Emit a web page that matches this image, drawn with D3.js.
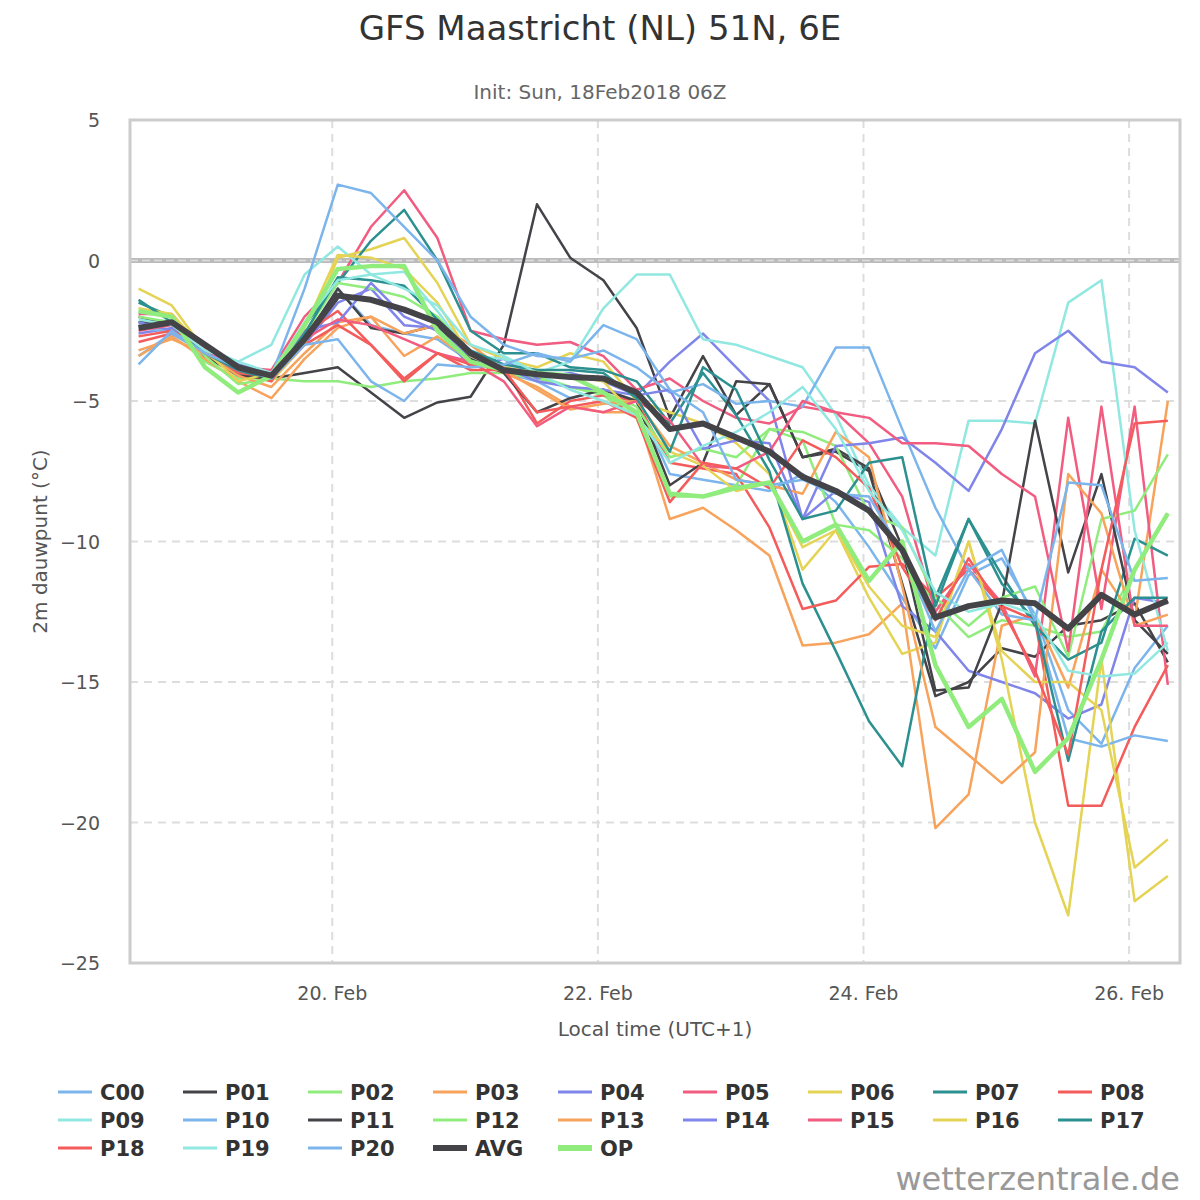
<!DOCTYPE html>
<html><head><meta charset="utf-8">
<script src="https://cdn.jsdelivr.net/npm/d3@7"></script>
<style>body{margin:0;background:#fff;} text{font-family:"DejaVu Sans",sans-serif;}</style>
</head><body>
<script>
// 6-hourly steps starting 18 Feb 13:00 local
let start = new Date(2018, 1, 18, 13);
let names = ["C00","P01","P02","P03","P04","P05","P06","P07","P08","P09","P10","P11","P12","P13","P14","P15","P16","P17","P18","P19","P20","AVG","OP"];
let colors = ["#7cb5ec","#434348","#90ed7d","#f7a35c","#8085e9","#f15c80","#e4d354","#2b908f","#f45b5b","#91e8e1"];

let C00 = [-3.4,-2.6,-3.1,-4.0,-4.2,-3.0,-1.0,-2.3,-2.6,-2.8,-3.6,-4.0,-4.3,-4.9,-4.6,-5.0,-7.6,-7.8,-8.0,-8.2,-7.6,-8.6,-10.2,-12.0,-13.8,-11.2,-10.6,-12.6,-16.0,-17.2,-14.5,-13.0];
let P01 = [-2.0,-2.3,-3.3,-3.9,-4.2,-4.0,-3.8,-4.7,-5.6,-5.05,-4.85,-3.0,2.0,0.1,-0.7,-2.4,-5.6,-3.4,-5.5,-4.4,-7.0,-6.8,-7.5,-11.5,-15.5,-15.0,-13.8,-14.1,-13.0,-12.8,-12.2,-14.3];
let P02 = [-2.0,-2.2,-3.6,-4.2,-4.2,-4.3,-4.3,-4.5,-4.3,-4.2,-4.0,-4.0,-4.2,-4.5,-4.8,-5.6,-8.4,-8.4,-8.0,-6.0,-6.4,-9.4,-9.6,-10.6,-12.2,-13.4,-12.8,-13.0,-13.4,-13.2,-11.0,-9.0];
let P03 = [-3.4,-2.7,-3.5,-4.3,-4.9,-3.5,-2.4,-2.0,-3.4,-2.7,-3.6,-4.0,-4.5,-5.2,-5.4,-5.4,-9.2,-8.8,-9.6,-10.5,-13.7,-13.6,-13.3,-12.2,-20.2,-19.0,-13.0,-12.6,-15.2,-11.0,-12.8,-5.0];
let P04 = [-2.6,-2.4,-3.1,-3.8,-4.1,-3.0,-1.5,-1.0,-2.3,-2.4,-3.8,-3.5,-4.2,-4.0,-4.3,-4.8,-3.6,-2.6,-3.8,-5.0,-9.2,-8.2,-8.6,-12.3,-13.2,-14.6,-15.0,-15.4,-16.3,-15.8,-12.0,-12.2];
let P05 = [-1.9,-1.9,-3.3,-3.8,-3.9,-2.0,-0.8,1.2,2.5,0.8,-2.5,-2.8,-3.0,-2.9,-3.4,-4.6,-4.2,-5.0,-5.6,-5.8,-5.2,-5.4,-6.5,-8.4,-12.5,-10.8,-12.2,-14.8,-5.6,-12.4,-5.2,-15.1];
let P06 = [-1.0,-1.6,-3.2,-4.0,-4.3,-3.0,0.1,0.4,0.8,-0.8,-3.0,-3.5,-3.8,-3.3,-3.6,-5.0,-5.4,-5.8,-6.5,-7.6,-11.0,-9.6,-12.0,-14.0,-13.6,-10.0,-14.2,-20.0,-23.3,-14.2,-22.8,-21.9];
let P07 = [-1.5,-2.0,-3.3,-4.0,-4.2,-2.3,-0.8,0.7,1.8,0.0,-2.5,-3.3,-3.3,-3.8,-3.9,-4.3,-5.8,-4.0,-5.5,-7.5,-11.5,-13.9,-16.4,-18.0,-12.0,-9.2,-11.2,-13.0,-14.2,-13.6,-9.9,-10.5];
let P08 = [-2.9,-2.6,-3.2,-4.0,-4.3,-2.6,-1.8,-3.0,-4.3,-3.3,-3.7,-3.8,-5.8,-5.0,-4.8,-5.0,-7.2,-7.4,-7.6,-9.5,-12.4,-12.1,-10.9,-10.8,-12.0,-11.0,-12.3,-12.8,-19.4,-19.4,-16.6,-14.4];
let P09 = [-2.4,-2.5,-3.1,-3.6,-3.0,-0.5,0.5,-0.5,-0.4,-1.8,-3.4,-3.5,-4.0,-3.6,-1.7,-0.5,-0.5,-2.8,-3.0,-3.4,-3.8,-5.5,-8.0,-9.5,-10.5,-5.7,-5.7,-5.8,-1.5,-0.7,-9.6,-13.9];
let P10 = [-2.3,-2.6,-3.3,-3.9,-4.1,-1.0,2.7,2.4,1.2,0.0,-2.0,-3.0,-3.4,-3.5,-3.2,-3.8,-4.7,-4.4,-5.1,-5.0,-5.2,-3.1,-3.1,-6.0,-8.8,-11.0,-12.6,-12.8,-17.0,-17.3,-16.9,-17.1];
let P11 = [-2.2,-2.2,-3.4,-4.1,-4.2,-2.8,-1.0,-2.4,-2.6,-2.3,-3.5,-4.0,-5.4,-4.9,-4.6,-5.0,-8.0,-7.2,-4.3,-4.4,-7.0,-6.7,-7.4,-10.2,-15.3,-15.2,-12.2,-5.7,-11.1,-7.6,-12.8,-14.0];
let P12 = [-1.8,-2.0,-3.4,-4.4,-4.2,-2.6,-0.8,-1.0,-1.3,-2.0,-3.3,-3.9,-4.1,-4.5,-4.7,-5.2,-7.0,-6.7,-7.0,-6.0,-6.1,-6.6,-9.0,-9.5,-12.0,-13.0,-12.0,-11.6,-14.1,-9.2,-8.9,-6.9];
let P13 = [-3.2,-2.8,-3.3,-4.1,-4.5,-3.3,-2.2,-2.0,-2.6,-2.3,-3.0,-3.9,-4.6,-5.3,-5.1,-5.0,-6.6,-7.2,-7.8,-8.0,-8.3,-6.1,-7.0,-11.6,-16.6,-17.6,-18.6,-17.5,-7.6,-9.0,-13.0,-12.6];
let P14 = [-2.2,-2.5,-3.0,-3.7,-4.0,-2.5,-2.2,-0.8,-2.0,-2.5,-3.4,-3.8,-4.3,-4.5,-4.6,-4.8,-4.6,-6.7,-6.4,-6.5,-9.2,-6.6,-6.5,-6.3,-7.2,-8.2,-6.0,-3.3,-2.5,-3.6,-3.8,-4.7];
let P15 = [-2.5,-2.3,-3.2,-3.9,-4.1,-2.8,-2.1,-2.3,-2.8,-3.3,-3.6,-4.3,-5.9,-5.2,-5.4,-5.0,-5.7,-7.3,-7.4,-6.8,-5.0,-5.4,-5.6,-6.5,-6.5,-6.6,-7.6,-8.4,-13.9,-5.2,-13.0,-13.0];
let P16 = [-1.7,-1.9,-3.2,-4.3,-4.0,-2.4,0.2,0.1,-0.3,-1.5,-3.4,-3.8,-4.0,-4.1,-4.3,-5.6,-6.8,-7.3,-8.2,-7.9,-10.2,-9.6,-11.6,-13.0,-13.4,-10.0,-13.9,-15.0,-15.0,-16.0,-21.6,-20.6];
let P17 = [-1.4,-2.2,-3.3,-3.9,-4.2,-2.6,-0.6,-0.7,-0.9,-2.1,-3.2,-3.7,-3.9,-3.9,-4.0,-4.9,-6.8,-3.8,-4.6,-7.1,-9.2,-8.9,-7.2,-7.0,-12.3,-9.2,-11.5,-12.8,-17.8,-13.2,-12.0,-12.0];
let P18 = [-2.7,-2.5,-3.1,-3.8,-4.2,-3.0,-2.3,-3.0,-4.2,-3.3,-3.9,-3.9,-5.4,-5.2,-5.0,-5.6,-8.6,-7.2,-7.4,-8.1,-6.4,-7.0,-8.1,-10.9,-12.8,-10.6,-12.4,-14.6,-17.6,-11.0,-5.8,-5.7];
let P19 = [-2.1,-2.3,-3.2,-3.6,-4.0,-2.2,-0.7,-0.5,-1.0,-1.6,-3.0,-3.4,-4.0,-4.6,-5.0,-5.5,-7.2,-6.6,-6.1,-5.4,-4.5,-6.0,-8.2,-9.6,-11.8,-12.5,-12.2,-12.6,-14.6,-14.8,-14.7,-13.6];
let P20 = [-3.7,-2.5,-3.3,-3.8,-4.2,-3.0,-2.8,-4.3,-5.0,-3.7,-3.8,-3.7,-3.3,-3.6,-2.3,-2.8,-4.6,-5.4,-7.8,-8.0,-7.8,-8.3,-8.4,-10.4,-13.2,-11.0,-10.3,-12.8,-7.9,-8.0,-11.4,-11.3];
let AVG = [-2.4,-2.2,-3.0,-3.8,-4.1,-2.8,-1.25,-1.4,-1.75,-2.2,-3.3,-3.9,-4.05,-4.15,-4.2,-4.7,-6.0,-5.8,-6.3,-6.8,-7.7,-8.2,-8.9,-10.3,-12.7,-12.3,-12.1,-12.2,-13.1,-11.9,-12.6,-12.1];
let OP = [-1.8,-2.0,-3.8,-4.7,-4.1,-2.3,-0.3,-0.2,-0.2,-2.5,-3.6,-3.9,-4.0,-4.1,-4.7,-5.4,-8.3,-8.4,-8.1,-7.9,-10.0,-9.4,-11.4,-10.0,-14.4,-16.6,-15.6,-18.2,-17.0,-14.2,-11.0,-9.0];
let seriesData = [C00,P01,P02,P03,P04,P05,P06,P07,P08,P09,P10,P11,P12,P13,P14,P15,P16,P17,P18,P19,P20,AVG,OP];
let yTicks = [5,0,-5,-10,-15,-20,-25];
let xTickDays = [20,22,24,26];

let W = 1200, H = 1200;
let margin = {top: 120, right: 20, bottom: 237, left: 130};
let svg = d3.select("body").append("svg").attr("width", W).attr("height", H);
let pw = W - margin.left - margin.right, ph = H - margin.top - margin.bottom;

let x = d3.scaleTime()
    .domain([new Date(2018,1,18,11,27), new Date(2018,1,26,9,12)])
    .range([margin.left, margin.left + pw]);
let y = d3.scaleLinear().domain([-25, 5]).range([margin.top + ph, margin.top]);

svg.append("text").text("GFS Maastricht (NL) 51N, 6E")
    .attr("x", 600).attr("y", 40).attr("text-anchor", "middle")
    .style("font-size", "34px").style("fill", "#333");
svg.append("text").text("Init: Sun, 18Feb2018 06Z")
    .attr("x", 600).attr("y", 99).attr("text-anchor", "middle")
    .style("font-size", "20px").style("fill", "#666");

// grid
let grid = svg.append("g");
xTickDays.forEach(function(d) {
    let xx = x(new Date(2018,1,d));
    grid.append("line").attr("x1", xx).attr("x2", xx).attr("y1", margin.top).attr("y2", margin.top + ph)
        .attr("stroke", "#ddd").attr("stroke-width", 2).attr("stroke-dasharray", "8,6");
    grid.append("text").text(d + ". Feb").attr("x", xx).attr("y", 1000).attr("text-anchor", "middle")
        .style("font-size", "19px").style("fill", "#555");
});
yTicks.forEach(function(t) {
    if (t > -25 && t < 5 && t !== 0) {
        grid.append("line").attr("x1", margin.left).attr("x2", margin.left + pw).attr("y1", y(t)).attr("y2", y(t))
            .attr("stroke", "#ddd").attr("stroke-width", 2).attr("stroke-dasharray", "8,6");
    }
    grid.append("text").text(t < 0 ? "\u2212" + (-t) : t).attr("x", 100).attr("y", y(t) + 7).attr("text-anchor", "end")
        .style("font-size", "19px").style("fill", "#555");
});
// zero line
svg.append("line").attr("x1", margin.left).attr("x2", margin.left + pw).attr("y1", y(0)).attr("y2", y(0))
    .attr("stroke", "#bbb").attr("stroke-width", 5);
svg.append("line").attr("x1", margin.left).attr("x2", margin.left + pw).attr("y1", y(0)).attr("y2", y(0))
    .attr("stroke", "#ddd").attr("stroke-width", 1.5).attr("stroke-dasharray", "8,4");

svg.append("text").text("Local time (UTC+1)").attr("x", 655).attr("y", 1036).attr("text-anchor", "middle")
    .style("font-size", "20px").style("fill", "#555");
svg.append("text").text("2m dauwpunt (°C)").attr("transform", "translate(47," + (margin.top + ph/2) + ") rotate(-90)")
    .attr("text-anchor", "middle").style("font-size", "20px").style("fill", "#555");

let line = d3.line()
    .x(function(d, i) { return x(d3.timeHour.offset(start, 6 * i)); })
    .y(function(d) { return y(d); });
let clip = svg.append("clipPath").attr("id", "clip").append("rect")
    .attr("x", margin.left).attr("y", margin.top).attr("width", pw).attr("height", ph);

function colorOf(i) { return i === 21 ? "#434348" : i === 22 ? "#90ed7d" : colors[i % 10]; }
function widthOf(i) { return i === 21 ? 6 : i === 22 ? 4.5 : 2.5; }
let order = d3.range(21).concat([22, 21]);
svg.append("g").attr("clip-path", "url(#clip)").selectAll("path").data(order).enter().append("path")
    .attr("d", function(i) { return line(seriesData[i]); })
    .attr("fill", "none").attr("stroke", colorOf).attr("stroke-width", widthOf)
    .attr("stroke-linejoin", "round");

// frame
svg.append("rect").attr("x", margin.left).attr("y", margin.top).attr("width", pw).attr("height", ph)
    .attr("fill", "none").attr("stroke", "#ccc").attr("stroke-width", 3);

// legend
let leg = svg.append("g");
names.forEach(function(n, i) {
    let col = i % 9, row = Math.floor(i / 9);
    let lx = 58 + col * 125, ly = 1092 + row * 28;
    leg.append("line").attr("x1", lx).attr("x2", lx + 34).attr("y1", ly).attr("y2", ly)
        .attr("stroke", colorOf(i)).attr("stroke-width", i >= 21 ? 6 : 3);
    leg.append("text").text(n).attr("x", lx + 42).attr("y", ly + 8)
        .style("font-size", "21px").style("font-weight", "bold").style("fill", "#333");
});
svg.append("text").text("wetterzentrale.de").attr("x", 1180).attr("y", 1190).attr("text-anchor", "end")
    .style("font-size", "32px").style("fill", "#999");
</script>
</body></html>
